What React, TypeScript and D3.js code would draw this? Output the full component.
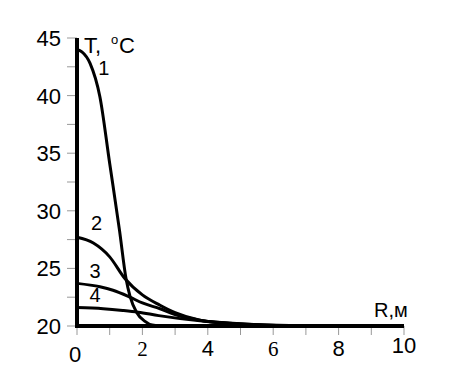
import React from "react";
import * as d3 from "d3";

const W = 460;
const H = 382;

const r1 = [0, 0.15, 0.4, 0.7, 1.0, 1.3, 1.5, 1.62, 1.82, 2.08, 2.3, 2.6, 10];
const t1 = [44, 43.8, 42.8, 39.9, 34.1, 28.3, 24.1, 22.6, 21.2, 20.4, 20.08, 20, 20];
const r2 = [0, 0.5, 1.0, 1.47, 2.0, 2.54, 3.0, 3.76, 5, 6.5, 10];
const t2 = [27.7, 27.2, 26.0, 24.1, 22.7, 21.8, 21.15, 20.5, 20.15, 20.03, 20];
const r3 = [0, 0.7, 1.1, 1.62, 2.0, 2.54, 3.0, 3.76, 5, 6.5, 10];
const t3 = [23.7, 23.4, 23.1, 22.5, 22.0, 21.5, 21.0, 20.5, 20.18, 20.04, 20];
const r4 = [0, 0.8, 1.4, 1.87, 2.5, 3.76, 5, 6.5, 10];
const t4 = [21.6, 21.5, 21.35, 21.2, 20.9, 20.45, 20.2, 20.05, 20];

const curveNames = ["1", "2", "3", "4"];
const labelPos = [
  [0.82, 41.8],
  [0.6, 28.3],
  [0.55, 24.2],
  [0.55, 22.1],
];

const yTickLabels = [20, 25, 30, 35, 40, 45];
const xTickLabels = [0, 2, 4, 6, 8, 10];

export default function App() {
  const x = d3.scaleLinear().domain([0, 10]).range([77, 404]);
  const y = d3.scaleLinear().domain([20, 45]).range([326, 38]);
  const line = d3
    .line<[number, number]>()
    .x((d) => x(d[0]))
    .y((d) => y(d[1]))
    .curve(d3.curveMonotoneX);
  const series = [
    [r1, t1],
    [r2, t2],
    [r3, t3],
    [r4, t4],
  ].map(([r, t]) => r.map((v, i) => [v, t[i]] as [number, number]));

  const yMinor = d3.range(20, 45.01, 2.5);
  const xMinor = d3.range(0, 10.01, 1);
  const serifX = new Set([2, 6]);
  const font = "Arial, 'Liberation Sans', sans-serif";

  return (
    <svg
      width={W}
      height={H}
      style={{ position: "absolute", left: 0, top: 0, background: "#fff" }}
    >
      {yMinor.map((v) => (
        <line key={"yt" + v} x1={67} x2={77} y1={y(v)} y2={y(v)} stroke="#999" strokeWidth={1} />
      ))}
      {xMinor.map((v) => (
        <line key={"xt" + v} x1={x(v)} x2={x(v)} y1={326} y2={335} stroke="#999" strokeWidth={1} />
      ))}
      {yTickLabels.map((v) => (
        <text
          key={"yl" + v}
          x={61}
          y={y(v) + 8}
          textAnchor="end"
          fontFamily={font}
          fontSize={22}
          fill="#000"
        >
          {v}
        </text>
      ))}
      {xTickLabels.map((v) => (
        <text
          key={"xl" + v}
          x={v === 0 ? x(v) - 2 : x(v)}
          y={v === 0 ? 362 : v === 10 ? 353 : 356}
          textAnchor="middle"
          fontFamily={serifX.has(v) ? "'Liberation Serif', 'Times New Roman', serif" : font}
          fontSize={serifX.has(v) ? 21 : 22}
          fill="#000"
        >
          {v}
        </text>
      ))}
      {series.map((s, i) => (
        <path key={"s" + i} d={line(s) || ""} fill="none" stroke="#000" strokeWidth={3} />
      ))}
      <line x1={x(0)} x2={x(0)} y1={y(45)} y2={y(20) + 2} stroke="#000" strokeWidth={4} />
      <line x1={x(0) - 2} x2={x(10)} y1={y(20)} y2={y(20)} stroke="#000" strokeWidth={4} />
      {curveNames.map((n, i) => (
        <text
          key={"c" + n}
          x={x(labelPos[i][0])}
          y={y(labelPos[i][1])}
          textAnchor="middle"
          fontFamily={font}
          fontSize={20}
          fill="#000"
        >
          {n}
        </text>
      ))}
      <text x={84} y={53} fontFamily={font} fontSize={22} fill="#000">
        T,
      </text>
      <text x={111} y={44} fontFamily={font} fontSize={13} fill="#000">
        o
      </text>
      <text x={119} y={53} fontFamily={font} fontSize={22} fill="#000">
        C
      </text>
      <text x={374} y={317} fontFamily={font} fontSize={20} fill="#000">
        R,м
      </text>
    </svg>
  );
}
